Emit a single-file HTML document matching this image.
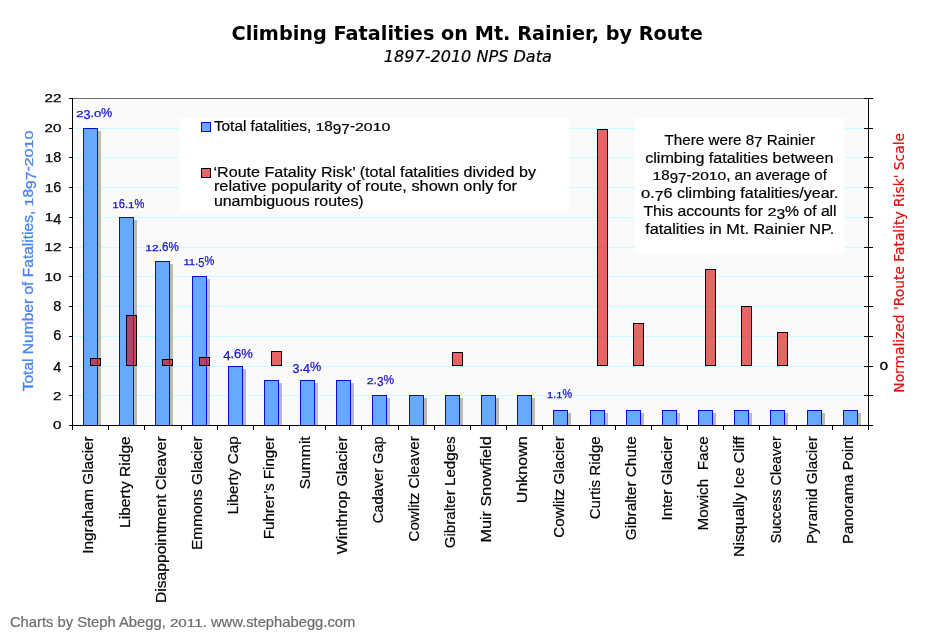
<!DOCTYPE html>
<html lang="en">
<head>
<meta charset="utf-8">
<title>Climbing Fatalities on Mt. Rainier, by Route</title>
<style>html,body{margin:0;padding:0;background:#ffffff;}svg{display:block;}</style>
</head>
<body>
<svg width="932" height="638" viewBox="0 0 932 638">
<rect x="0" y="0" width="932" height="638" fill="#ffffff"/>
<rect x="73" y="99" width="795" height="326" fill="#fafafa"/>
<g shape-rendering="crispEdges" fill="#c9fdff">
<rect x="73" y="395" width="795" height="1"/>
<rect x="73" y="366" width="795" height="1"/>
<rect x="73" y="336" width="795" height="1"/>
<rect x="73" y="306" width="795" height="1"/>
<rect x="73" y="276" width="795" height="1"/>
<rect x="73" y="247" width="795" height="1"/>
<rect x="73" y="217" width="795" height="1"/>
<rect x="73" y="187" width="795" height="1"/>
<rect x="73" y="157" width="795" height="1"/>
<rect x="73" y="128" width="795" height="1"/>
</g>
<rect x="72" y="98" width="797" height="1" fill="#6e6e6e" shape-rendering="crispEdges"/>
<rect x="179.4" y="118" width="390" height="93" fill="#ffffff"/>
<rect x="635" y="118" width="209.2" height="136" fill="#ffffff"/>
<g fill="#b9b9b9" shape-rendering="crispEdges"><rect x="86" y="131" width="15" height="294"/><rect x="122" y="220" width="15" height="205"/><rect x="158" y="264" width="15" height="161"/><rect x="195" y="279" width="15" height="146"/><rect x="231" y="369" width="15" height="56"/><rect x="267" y="383" width="15" height="42"/><rect x="303" y="383" width="15" height="42"/><rect x="339" y="383" width="15" height="42"/><rect x="375" y="398" width="15" height="27"/><rect x="412" y="398" width="15" height="27"/><rect x="448" y="398" width="15" height="27"/><rect x="484" y="398" width="15" height="27"/><rect x="520" y="398" width="15" height="27"/><rect x="556" y="413" width="15" height="12"/><rect x="593" y="413" width="15" height="12"/><rect x="629" y="413" width="15" height="12"/><rect x="665" y="413" width="15" height="12"/><rect x="701" y="413" width="15" height="12"/><rect x="737" y="413" width="15" height="12"/><rect x="773" y="413" width="15" height="12"/><rect x="810" y="413" width="15" height="12"/><rect x="846" y="413" width="15" height="12"/></g>
<g fill="#66a9ff" stroke="#0a0ad8" stroke-width="1" shape-rendering="crispEdges"><rect x="83.5" y="128.5" width="14" height="297"/><rect x="119.5" y="217.5" width="14" height="208"/><rect x="155.5" y="261.5" width="14" height="164"/><rect x="192.5" y="276.5" width="14" height="149"/><rect x="228.5" y="366.5" width="14" height="59"/><rect x="264.5" y="380.5" width="14" height="45"/><rect x="300.5" y="380.5" width="14" height="45"/><rect x="336.5" y="380.5" width="14" height="45"/><rect x="372.5" y="395.5" width="14" height="30"/><rect x="409.5" y="395.5" width="14" height="30"/><rect x="445.5" y="395.5" width="14" height="30"/><rect x="481.5" y="395.5" width="14" height="30"/><rect x="517.5" y="395.5" width="14" height="30"/><rect x="553.5" y="410.5" width="14" height="15"/><rect x="590.5" y="410.5" width="14" height="15"/><rect x="626.5" y="410.5" width="14" height="15"/><rect x="662.5" y="410.5" width="14" height="15"/><rect x="698.5" y="410.5" width="14" height="15"/><rect x="734.5" y="410.5" width="14" height="15"/><rect x="770.5" y="410.5" width="14" height="15"/><rect x="807.5" y="410.5" width="14" height="15"/><rect x="843.5" y="410.5" width="14" height="15"/></g>
<g fill="#de0606" fill-opacity="0.615" stroke="#000000" stroke-width="1" shape-rendering="crispEdges"><rect x="90.5" y="358.5" width="10" height="7"/><rect x="126.5" y="315.5" width="10" height="50"/><rect x="162.5" y="359.5" width="10" height="6"/><rect x="199.5" y="357.5" width="10" height="8"/><rect x="271.5" y="351.5" width="10" height="14"/><rect x="452.5" y="352.5" width="10" height="13"/><rect x="597.5" y="129.5" width="10" height="236"/><rect x="633.5" y="323.5" width="10" height="42"/><rect x="705.5" y="269.5" width="10" height="96"/><rect x="741.5" y="306.5" width="10" height="59"/><rect x="777.5" y="332.5" width="10" height="33"/></g>
<g fill="#000000" shape-rendering="crispEdges">
<rect x="72" y="98" width="1" height="328"/>
<rect x="69" y="425" width="804" height="1"/>
<rect x="868" y="98" width="1" height="332"/>
<rect x="69" y="425" width="4" height="1"/>
<rect x="864" y="425" width="9" height="1"/>
<rect x="69" y="395" width="4" height="1"/>
<rect x="864" y="395" width="9" height="1"/>
<rect x="69" y="366" width="4" height="1"/>
<rect x="864" y="366" width="9" height="1"/>
<rect x="69" y="336" width="4" height="1"/>
<rect x="864" y="336" width="9" height="1"/>
<rect x="69" y="306" width="4" height="1"/>
<rect x="864" y="306" width="9" height="1"/>
<rect x="69" y="276" width="4" height="1"/>
<rect x="864" y="276" width="9" height="1"/>
<rect x="69" y="247" width="4" height="1"/>
<rect x="864" y="247" width="9" height="1"/>
<rect x="69" y="217" width="4" height="1"/>
<rect x="864" y="217" width="9" height="1"/>
<rect x="69" y="187" width="4" height="1"/>
<rect x="864" y="187" width="9" height="1"/>
<rect x="69" y="157" width="4" height="1"/>
<rect x="864" y="157" width="9" height="1"/>
<rect x="69" y="128" width="4" height="1"/>
<rect x="864" y="128" width="9" height="1"/>
<rect x="69" y="98" width="4" height="1"/>
<rect x="864" y="98" width="9" height="1"/>
<rect x="72" y="425" width="1" height="5"/>
<rect x="108" y="425" width="1" height="5"/>
<rect x="144" y="425" width="1" height="5"/>
<rect x="181" y="425" width="1" height="5"/>
<rect x="217" y="425" width="1" height="5"/>
<rect x="253" y="425" width="1" height="5"/>
<rect x="289" y="425" width="1" height="5"/>
<rect x="325" y="425" width="1" height="5"/>
<rect x="361" y="425" width="1" height="5"/>
<rect x="398" y="425" width="1" height="5"/>
<rect x="434" y="425" width="1" height="5"/>
<rect x="470" y="425" width="1" height="5"/>
<rect x="506" y="425" width="1" height="5"/>
<rect x="542" y="425" width="1" height="5"/>
<rect x="579" y="425" width="1" height="5"/>
<rect x="615" y="425" width="1" height="5"/>
<rect x="651" y="425" width="1" height="5"/>
<rect x="687" y="425" width="1" height="5"/>
<rect x="723" y="425" width="1" height="5"/>
<rect x="759" y="425" width="1" height="5"/>
<rect x="796" y="425" width="1" height="5"/>
<rect x="832" y="425" width="1" height="5"/>
<rect x="868" y="425" width="1" height="5"/>
</g>
<g font-family="'Liberation Sans', sans-serif" font-size="14.6" fill="#000000" stroke="#000000" stroke-width="0.25">
<text x="52.9" y="429.4"><tspan font-size="10.9" textLength="8.4" lengthAdjust="spacingAndGlyphs">0</tspan></text>
<text x="52.9" y="399.7"><tspan font-size="10.9" textLength="8.4" lengthAdjust="spacingAndGlyphs">2</tspan></text>
<text x="53.2" y="369.9"><tspan dy="2.5" textLength="8.1" lengthAdjust="spacingAndGlyphs">4</tspan></text>
<text x="53.2" y="340.2"><tspan textLength="8.1" lengthAdjust="spacingAndGlyphs">6</tspan></text>
<text x="53.2" y="310.5"><tspan textLength="8.1" lengthAdjust="spacingAndGlyphs">8</tspan></text>
<text x="44.5" y="280.7"><tspan font-size="10.9" textLength="16.8" lengthAdjust="spacingAndGlyphs">10</tspan></text>
<text x="44.5" y="251.0"><tspan font-size="10.9" textLength="16.8" lengthAdjust="spacingAndGlyphs">12</tspan></text>
<text x="44.8" y="221.2"><tspan font-size="10.9" textLength="8.4" lengthAdjust="spacingAndGlyphs">1</tspan><tspan dy="2.5" textLength="8.1" lengthAdjust="spacingAndGlyphs">4</tspan></text>
<text x="44.8" y="191.5"><tspan font-size="10.9" textLength="8.4" lengthAdjust="spacingAndGlyphs">1</tspan><tspan textLength="8.1" lengthAdjust="spacingAndGlyphs">6</tspan></text>
<text x="44.8" y="161.8"><tspan font-size="10.9" textLength="8.4" lengthAdjust="spacingAndGlyphs">1</tspan><tspan textLength="8.1" lengthAdjust="spacingAndGlyphs">8</tspan></text>
<text x="44.5" y="132.0"><tspan font-size="10.9" textLength="16.8" lengthAdjust="spacingAndGlyphs">20</tspan></text>
<text x="44.5" y="102.3"><tspan font-size="10.9" textLength="16.8" lengthAdjust="spacingAndGlyphs">22</tspan></text>
</g>
<text x="879.8" y="370" font-family="'Liberation Sans', sans-serif" font-size="11" fill="#000000" stroke="#000000" stroke-width="0.35" textLength="8.2" lengthAdjust="spacingAndGlyphs">0</text>
<g font-family="'Liberation Sans', sans-serif" font-size="12.2" fill="#1a14c8" stroke="#1a14c8" stroke-width="0.25">
<text x="76.2" y="116.9"><tspan font-size="9.1" textLength="7.2" lengthAdjust="spacingAndGlyphs">2</tspan><tspan dy="2.1" textLength="7.0" lengthAdjust="spacingAndGlyphs">3</tspan><tspan dy="-2.1" textLength="3.5" lengthAdjust="spacingAndGlyphs">.</tspan><tspan font-size="9.1" textLength="7.2" lengthAdjust="spacingAndGlyphs">0</tspan><tspan textLength="11.2" lengthAdjust="spacingAndGlyphs">%</tspan></text>
<text x="112.3" y="208.0"><tspan font-size="9.1" textLength="6.4" lengthAdjust="spacingAndGlyphs">1</tspan><tspan textLength="9.3" lengthAdjust="spacingAndGlyphs">6.</tspan><tspan font-size="9.1" textLength="6.4" lengthAdjust="spacingAndGlyphs">1</tspan><tspan textLength="9.9" lengthAdjust="spacingAndGlyphs">%</tspan></text>
<text x="145.3" y="251.0"><tspan font-size="9.1" textLength="13.5" lengthAdjust="spacingAndGlyphs">12</tspan><tspan textLength="20.1" lengthAdjust="spacingAndGlyphs">.6%</tspan></text>
<text x="183.4" y="265.0"><tspan font-size="9.1" textLength="11.8" lengthAdjust="spacingAndGlyphs">11</tspan><tspan textLength="3.1" lengthAdjust="spacingAndGlyphs">.</tspan><tspan dy="2.1" textLength="6.1" lengthAdjust="spacingAndGlyphs">5</tspan><tspan dy="-2.1" textLength="9.8" lengthAdjust="spacingAndGlyphs">%</tspan></text>
<text x="223.3" y="358.3"><tspan dy="2.1" textLength="7.2" lengthAdjust="spacingAndGlyphs">4</tspan><tspan dy="-2.1" textLength="22.4" lengthAdjust="spacingAndGlyphs">.6%</tspan></text>
<text x="292.6" y="371.2"><tspan dy="2.1" textLength="7.0" lengthAdjust="spacingAndGlyphs">3</tspan><tspan dy="-2.1" textLength="3.5" lengthAdjust="spacingAndGlyphs">.</tspan><tspan dy="2.1" textLength="7.0" lengthAdjust="spacingAndGlyphs">4</tspan><tspan dy="-2.1" textLength="11.2" lengthAdjust="spacingAndGlyphs">%</tspan></text>
<text x="366.7" y="383.6"><tspan font-size="9.1" textLength="6.9" lengthAdjust="spacingAndGlyphs">2</tspan><tspan textLength="3.3" lengthAdjust="spacingAndGlyphs">.</tspan><tspan dy="2.1" textLength="6.6" lengthAdjust="spacingAndGlyphs">3</tspan><tspan dy="-2.1" textLength="10.6" lengthAdjust="spacingAndGlyphs">%</tspan></text>
<text x="547.0" y="398.0"><tspan font-size="9.1" textLength="6.2" lengthAdjust="spacingAndGlyphs">1</tspan><tspan textLength="3.0" lengthAdjust="spacingAndGlyphs">.</tspan><tspan font-size="9.1" textLength="6.2" lengthAdjust="spacingAndGlyphs">1</tspan><tspan textLength="9.6" lengthAdjust="spacingAndGlyphs">%</tspan></text>
</g>
<g font-family="'Liberation Sans', sans-serif" font-size="14.7" fill="#000000" stroke="#000000" stroke-width="0.2" text-anchor="end">
<text transform="translate(93.4 436.3) rotate(-90)" textLength="117.4" lengthAdjust="spacingAndGlyphs">Ingraham Glacier</text>
<text transform="translate(129.6 436.3) rotate(-90)" textLength="91.7" lengthAdjust="spacingAndGlyphs">Liberty Ridge</text>
<text transform="translate(165.7 436.3) rotate(-90)" textLength="166.7" lengthAdjust="spacingAndGlyphs">Disappointment Cleaver</text>
<text transform="translate(201.9 436.3) rotate(-90)" textLength="113.6" lengthAdjust="spacingAndGlyphs">Emmons Glacier</text>
<text transform="translate(238.1 436.3) rotate(-90)" textLength="78.2" lengthAdjust="spacingAndGlyphs">Liberty Cap</text>
<text transform="translate(274.2 436.3) rotate(-90)" textLength="103.0" lengthAdjust="spacingAndGlyphs">Fuhrer’s Finger</text>
<text transform="translate(310.4 436.3) rotate(-90)" textLength="53.0" lengthAdjust="spacingAndGlyphs">Summit</text>
<text transform="translate(346.6 436.3) rotate(-90)" textLength="118.0" lengthAdjust="spacingAndGlyphs">Winthrop Glacier</text>
<text transform="translate(382.7 436.3) rotate(-90)" textLength="86.9" lengthAdjust="spacingAndGlyphs">Cadaver Gap</text>
<text transform="translate(418.9 436.3) rotate(-90)" textLength="105.2" lengthAdjust="spacingAndGlyphs">Cowlitz Cleaver</text>
<text transform="translate(455.1 436.3) rotate(-90)" textLength="112.0" lengthAdjust="spacingAndGlyphs">Gibralter Ledges</text>
<text transform="translate(491.2 436.3) rotate(-90)" textLength="106.2" lengthAdjust="spacingAndGlyphs">Muir Snowfield</text>
<text transform="translate(527.4 436.3) rotate(-90)" textLength="66.9" lengthAdjust="spacingAndGlyphs">Unknown</text>
<text transform="translate(563.6 436.3) rotate(-90)" textLength="101.4" lengthAdjust="spacingAndGlyphs">Cowlitz Glacier</text>
<text transform="translate(599.7 436.3) rotate(-90)" textLength="83.0" lengthAdjust="spacingAndGlyphs">Curtis Ridge</text>
<text transform="translate(635.9 436.3) rotate(-90)" textLength="104.0" lengthAdjust="spacingAndGlyphs">Gibralter Chute</text>
<text transform="translate(672.1 436.3) rotate(-90)" textLength="84.3" lengthAdjust="spacingAndGlyphs">Inter Glacier</text>
<text transform="translate(708.2 436.3) rotate(-90)" textLength="94.3" lengthAdjust="spacingAndGlyphs">Mowich  Face</text>
<text transform="translate(744.4 436.3) rotate(-90)" textLength="120.7" lengthAdjust="spacingAndGlyphs">Nisqually Ice Cliff</text>
<text transform="translate(780.6 436.3) rotate(-90)" textLength="106.9" lengthAdjust="spacingAndGlyphs">Success Cleaver</text>
<text transform="translate(816.7 436.3) rotate(-90)" textLength="107.8" lengthAdjust="spacingAndGlyphs">Pyramid Glacier</text>
<text transform="translate(852.9 436.3) rotate(-90)" textLength="107.8" lengthAdjust="spacingAndGlyphs">Panorama Point</text>
</g>
<text transform="translate(33 391.3) rotate(-90)" font-family="'Liberation Sans', sans-serif" font-size="15" fill="#4a84f4" stroke="#4a84f4" stroke-width="0.3"><tspan textLength="184.9" lengthAdjust="spacingAndGlyphs">Total Number of Fatalities, </tspan><tspan font-size="11.2" textLength="8.9" lengthAdjust="spacingAndGlyphs">1</tspan><tspan textLength="8.6" lengthAdjust="spacingAndGlyphs">8</tspan><tspan dy="2.6" textLength="17.3" lengthAdjust="spacingAndGlyphs">97</tspan><tspan dy="-2.6" textLength="5.2" lengthAdjust="spacingAndGlyphs">-</tspan><tspan font-size="11.2" textLength="35.8" lengthAdjust="spacingAndGlyphs">2010</tspan></text>
<text transform="translate(904 392.7) rotate(-90)" font-family="'DejaVu Sans', 'Liberation Sans', sans-serif" font-size="13.4" fill="#e01010" stroke="#e01010" stroke-width="0.2" textLength="259.7" lengthAdjust="spacingAndGlyphs">Normalized 'Route Fatality Risk' Scale</text>
<text x="231.5" y="39.5" font-family="'DejaVu Sans', 'Liberation Sans', sans-serif" font-size="19.2" font-weight="bold" fill="#000000" textLength="471.3" lengthAdjust="spacingAndGlyphs">Climbing Fatalities on Mt. Rainier, by Route</text>
<text x="383.8" y="61.6" font-family="'DejaVu Sans', 'Liberation Sans', sans-serif" font-size="16.4" font-style="italic" fill="#000000" stroke="#000000" stroke-width="0.2" textLength="168" lengthAdjust="spacingAndGlyphs">1897-2010 NPS Data</text>
<rect x="201.5" y="122.5" width="9" height="9" fill="#66a9ff" stroke="#0a0ad8" stroke-width="1" shape-rendering="crispEdges"/>
<rect x="201.5" y="168.5" width="9" height="9" fill="#e96464" stroke="#000000" stroke-width="1" shape-rendering="crispEdges"/>
<g font-family="'Liberation Sans', sans-serif" font-size="15.1" fill="#000000" stroke="#000000" stroke-width="0.2">
<text x="213.9" y="130.9"><tspan textLength="101.6" lengthAdjust="spacingAndGlyphs">Total fatalities, </tspan><tspan font-size="11.3" textLength="8.8" lengthAdjust="spacingAndGlyphs">1</tspan><tspan textLength="8.5" lengthAdjust="spacingAndGlyphs">8</tspan><tspan dy="2.6" textLength="17.1" lengthAdjust="spacingAndGlyphs">97</tspan><tspan dy="-2.6" textLength="5.1" lengthAdjust="spacingAndGlyphs">-</tspan><tspan font-size="11.3" textLength="35.4" lengthAdjust="spacingAndGlyphs">2010</tspan></text>
<text x="213.5" y="176.6" textLength="322.5" lengthAdjust="spacingAndGlyphs">‘Route Fatality Risk’ (total fatalities divided by</text>
<text x="213.9" y="191.4" textLength="303.1" lengthAdjust="spacingAndGlyphs">relative popularity of route, shown only for</text>
<text x="213.9" y="206.2" textLength="149.8" lengthAdjust="spacingAndGlyphs">unambiguous routes)</text>
<text x="664.5" y="144.6"><tspan textLength="89.6" lengthAdjust="spacingAndGlyphs">There were 8</tspan><tspan dy="2.6" textLength="8.5" lengthAdjust="spacingAndGlyphs">7</tspan><tspan dy="-2.6" textLength="52.4" lengthAdjust="spacingAndGlyphs"> Rainier</tspan></text>
<text x="645.2" y="162.6" textLength="188.3" lengthAdjust="spacingAndGlyphs">climbing fatalities between</text>
<text x="652.6" y="180.4"><tspan font-size="11.3" textLength="8.7" lengthAdjust="spacingAndGlyphs">1</tspan><tspan textLength="8.4" lengthAdjust="spacingAndGlyphs">8</tspan><tspan dy="2.6" textLength="16.8" lengthAdjust="spacingAndGlyphs">97</tspan><tspan dy="-2.6" textLength="5.0" lengthAdjust="spacingAndGlyphs">-</tspan><tspan font-size="11.3" textLength="34.7" lengthAdjust="spacingAndGlyphs">2010</tspan><tspan textLength="100.7" lengthAdjust="spacingAndGlyphs">, an average of</tspan></text>
<text x="641.0" y="198.4"><tspan font-size="11.3" textLength="9.2" lengthAdjust="spacingAndGlyphs">0</tspan><tspan textLength="4.5" lengthAdjust="spacingAndGlyphs">.</tspan><tspan dy="2.6" textLength="8.9" lengthAdjust="spacingAndGlyphs">7</tspan><tspan dy="-2.6" textLength="174.9" lengthAdjust="spacingAndGlyphs">6 climbing fatalities/year.</tspan></text>
<text x="643.5" y="216.3"><tspan textLength="123.9" lengthAdjust="spacingAndGlyphs">This accounts for </tspan><tspan font-size="11.3" textLength="9.0" lengthAdjust="spacingAndGlyphs">2</tspan><tspan dy="2.6" textLength="8.7" lengthAdjust="spacingAndGlyphs">3</tspan><tspan dy="-2.6" textLength="51.5" lengthAdjust="spacingAndGlyphs">% of all</tspan></text>
<text x="645.2" y="234.2" textLength="189.1" lengthAdjust="spacingAndGlyphs">fatalities in Mt. Rainier NP.</text>
</g>
<text x="9.9" y="627" font-family="'Liberation Sans', sans-serif" font-size="14.5" fill="#6c6c6c" stroke="#6c6c6c" stroke-width="0.2"><tspan textLength="160.0" lengthAdjust="spacingAndGlyphs">Charts by Steph Abegg, </tspan><tspan font-size="10.9" textLength="32.8" lengthAdjust="spacingAndGlyphs">2011</tspan><tspan textLength="152.6" lengthAdjust="spacingAndGlyphs">. www.stephabegg.com</tspan></text>
</svg>
</body>
</html>
